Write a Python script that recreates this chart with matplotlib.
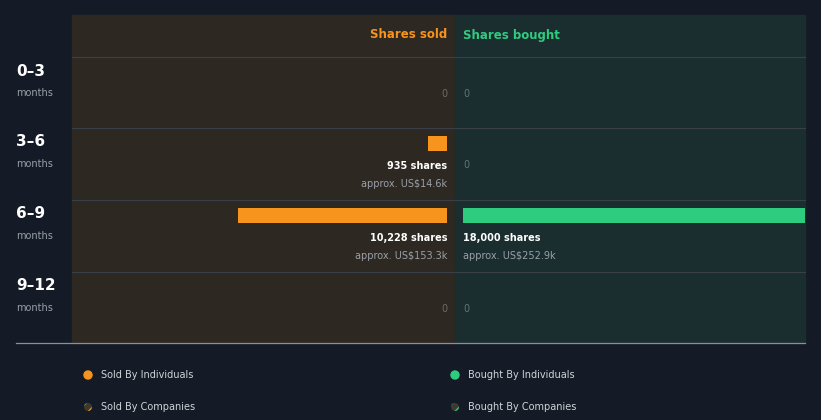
import matplotlib.pyplot as plt
from matplotlib.patches import Rectangle, Circle

periods = ["0–3", "3–6", "6–9", "9–12"]
sold_shares = [0, 935, 10228, 0]
sold_value = [None, "US$14.6k", "US$153.3k", None]
bought_shares = [0, 0, 18000, 0]
bought_value = [None, None, "US$252.9k", None]

W, H = 821, 420
BG = "#151b26"
ORANGE = "#f7941d"
GREEN = "#2ecc7f"
plt.rcParams["hatch.linewidth"] = 1.2

fig = plt.figure(figsize=(W / 100, H / 100), dpi=100)
fig.patch.set_facecolor(BG)
base = fig.add_axes([0, 0, 1, 1])
base.set_xlim(0, W)
base.set_ylim(H, 0)
base.axis("off")

# panels
base.add_patch(Rectangle((72, 15), 383, 328, color="#2d2822", zorder=0))
base.add_patch(Rectangle((455, 15), 350, 328, color="#1a2e30", zorder=0))
for y in [57, 128, 200, 272]:
    base.plot([72, 805], [y, y], color="#3a4048", lw=0.8, zorder=1)
base.plot([16, 805], [343, 343], color="#8a9099", lw=0.9, zorder=1)

base.text(447, 35, "Shares sold", color=ORANGE, fontsize=8.5, fontweight="bold",
          ha="right", va="center")
base.text(463, 35, "Shares bought", color=GREEN, fontsize=8.5, fontweight="bold",
          ha="left", va="center")

# bar axes in pixel regions
row_top = [57, 128, 200, 272]
axl = fig.add_axes([72 / W, 0, (447 - 72) / W, 1])
axr = fig.add_axes([463 / W, 0, (805 - 463) / W, 1])
for ax in (axl, axr):
    ax.set_ylim(H, 0)
    ax.axis("off")
    ax.patch.set_alpha(0)
axl.set_xlim(18350, 0)
axr.set_xlim(0, 18000)

for i, p in enumerate(periods):
    t = row_top[i]
    base.text(16, t + 14, p, color="white", fontsize=11, fontweight="bold", va="center")
    base.text(16, t + 36, "months", color="#9aa0a8", fontsize=7, va="center")
    # sold
    if sold_shares[i]:
        axl.barh(t + 15.5, sold_shares[i], height=15, left=0, color=ORANGE)
        base.text(447, t + 38, f"{sold_shares[i]:,} shares", color="white", fontsize=7,
                  fontweight="bold", ha="right", va="center")
        base.text(447, t + 56, f"approx. {sold_value[i]}", color="#9aa0a8", fontsize=7,
                  ha="right", va="center")
    else:
        base.text(447, t + 37, "0", color="#6d6a66", fontsize=7, ha="right", va="center")
    # bought
    if bought_shares[i]:
        axr.barh(t + 15.5, bought_shares[i], height=15, left=0, color=GREEN)
        base.text(463, t + 38, f"{bought_shares[i]:,} shares", color="white", fontsize=7,
                  fontweight="bold", ha="left", va="center")
        base.text(463, t + 56, f"approx. {bought_value[i]}", color="#9aa0a8", fontsize=7,
                  ha="left", va="center")
    else:
        base.text(463, t + 37, "0", color="#66736f", fontsize=7, ha="left", va="center")

# legend
legend = [(88, 375, ORANGE, False, "Sold By Individuals"),
          (455, 375, GREEN, False, "Bought By Individuals"),
          (88, 407, ORANGE, True, "Sold By Companies"),
          (455, 407, GREEN, True, "Bought By Companies")]
for x, y, c, hatch, label in legend:
    if hatch:
        base.add_patch(Circle((x, y), 4, facecolor="#3a3a30", edgecolor=c, hatch="///", lw=0))
    else:
        base.add_patch(Circle((x, y), 4, color=c))
    base.text(x + 13, y, label, color="#d0d3d8", fontsize=7, va="center")

fig.savefig("out.png", dpi=100, facecolor=BG)
